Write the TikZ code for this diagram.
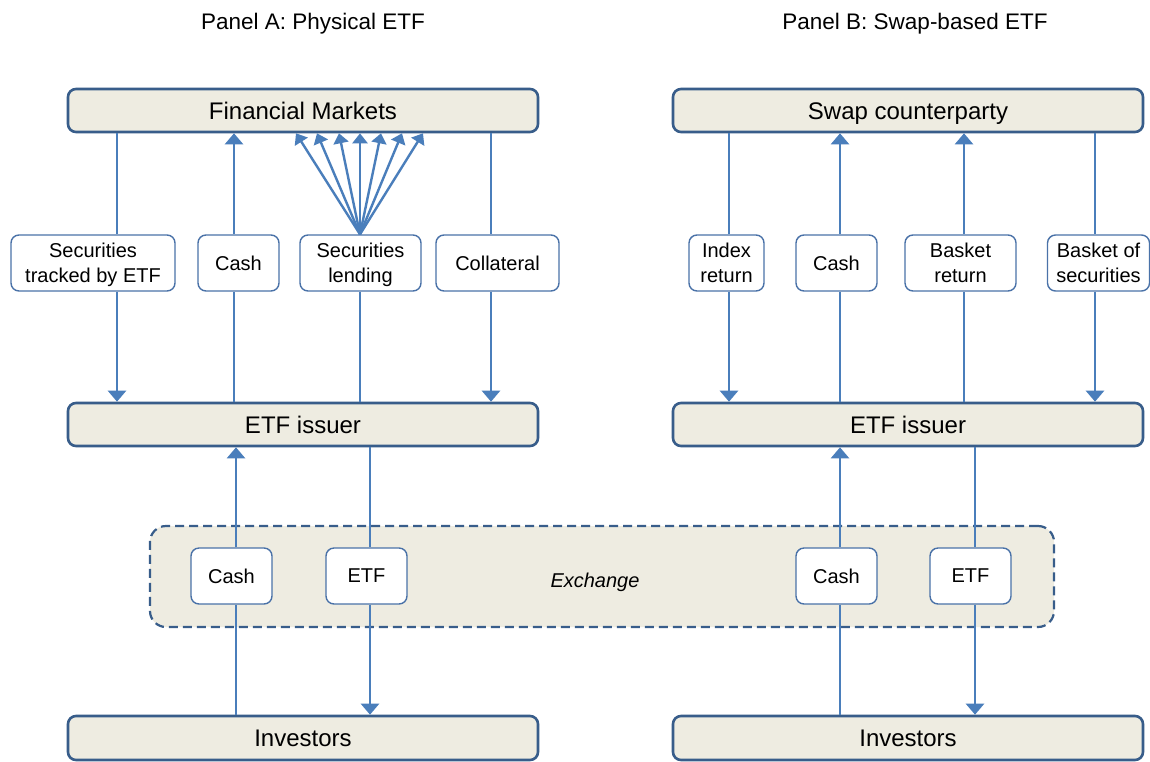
\documentclass[tikz,border=0pt]{standalone}
\usepackage{fontspec}
\setmainfont{Liberation Sans}
\usetikzlibrary{arrows.meta,calc}
\definecolor{boxfill}{HTML}{EEECE1}
\definecolor{boxline}{HTML}{385D8A}
\definecolor{arrowc}{HTML}{4A7EBB}
\definecolor{smallline}{HTML}{4A72A8}
\begin{document}
\begin{tikzpicture}[x=1pt,y=-1pt,
  bigbox/.style={draw=boxline, line width=2.6pt, fill=boxfill, rounded corners=8pt,
    minimum width=470pt, minimum height=43pt, inner sep=0pt,
    text height=17.5pt, text depth=0pt, font=\fontsize{24}{28}\selectfont},
  smallbox/.style={draw=smallline, line width=1.4pt, fill=white, rounded corners=8pt,
    minimum height=56pt, inner sep=0pt, align=center, text depth=0pt,
    font=\fontsize{20}{25}\selectfont},
  exbox/.style={draw=boxline, line width=2.2pt, dash pattern=on 9pt off 5pt,
    fill=boxfill, rounded corners=16pt, minimum width=904pt, minimum height=101pt, inner sep=0pt},
  titletext/.style={anchor=base, font=\fontsize{22.5}{27}\selectfont},
  flow/.style={draw=arrowc, line width=2.4pt},
  arr/.style={flow, -{Triangle[width=18pt,length=11pt]}},
  fanarr/.style={flow, -{Triangle[width=15pt,length=10pt]}}]
\useasboundingbox (0,0) rectangle (1150,761);
\fill[white] (0,0) rectangle (1150,761);

% titles
\node[titletext] (ta) at (313,29) {Panel A: Physical ETF};
\node[titletext] (tb) at (915,29) {Panel B: Swap-based ETF};

% exchange
\node[exbox] (ex) at (602,576.5) {};
\node[anchor=base, font=\itshape\fontsize{20}{24}\selectfont] (exl) at (595,587) {Exchange};

% big boxes
\node[bigbox] (FM) at (303,110.5) {Financial Markets};
\node[bigbox] (SC) at (908,110.5) {Swap counterparty};
\node[bigbox] (EA) at (303,424.5) {ETF issuer};
\node[bigbox] (EB) at (908,424.5) {ETF issuer};
\node[bigbox, minimum height=44pt] (IA) at (303,738) {Investors};
\node[bigbox, minimum height=44pt] (IB) at (908,738) {Investors};

% panel A small boxes
\node[smallbox, minimum width=164pt] (s1) at (93,263) {Securities\\tracked by ETF};
\node[smallbox, minimum width=81pt] (s2) at (238.5,263) {Cash};
\node[smallbox, minimum width=121pt] (s3) at (360.5,263) {Securities\\lending};
\node[smallbox, minimum width=123pt] (s4) at (497.5,263) {Collateral};

% panel B small boxes
\node[smallbox, minimum width=75pt] (b1) at (726.5,263) {Index\\return};
\node[smallbox, minimum width=81pt] (b2) at (836.5,263) {Cash};
\node[smallbox, minimum width=111pt] (b3) at (960.5,263) {Basket\\return};
\node[smallbox, minimum width=102pt] (b4) at (1098.5,263) {Basket of\\securities};

% exchange small boxes
\node[smallbox, minimum width=81pt] (c1) at (231.5,576) {Cash};
\node[smallbox, minimum width=81pt] (c2) at (366.5,576) {ETF};
\node[smallbox, minimum width=81pt] (c3) at (836.5,576) {Cash};
\node[smallbox, minimum width=81pt] (c4) at (970.5,576) {ETF};

% x positions of connectors
\coordinate (xa1) at (117,0);
\coordinate (xa2) at (234,0);
\coordinate (xa3) at (360,0);
\coordinate (xa4) at (491,0);
\coordinate (xb1) at (729,0);
\coordinate (xb2) at (840,0);
\coordinate (xb3) at (964,0);
\coordinate (xb4) at (1095,0);
\coordinate (xc1) at (236,0);
\coordinate (xc2) at (370,0);
\coordinate (xc3) at (840,0);
\coordinate (xc4) at (975,0);

% panel A top connectors
\draw[flow] (xa1 |- FM.south) -- (xa1 |- s1.north);
\draw[arr]  (xa1 |- s1.south) -- (xa1 |- EA.north);
\draw[arr]  (xa2 |- s2.north) -- (xa2 |- FM.south);
\draw[flow] (xa2 |- EA.north) -- (xa2 |- s2.south);
\draw[flow] (xa3 |- s3.south) -- (xa3 |- EA.north);
\foreach \x [count=\i] in {296,317,339,360,381,402,423}{
  \coordinate (f\i) at (\x,0);
  \draw[fanarr] (xa3 |- s3.north) -- (f\i |- FM.south);
}
\draw[flow] (xa4 |- FM.south) -- (xa4 |- s4.north);
\draw[arr]  (xa4 |- s4.south) -- (xa4 |- EA.north);

% panel B top connectors
\draw[flow] (xb1 |- SC.south) -- (xb1 |- b1.north);
\draw[arr]  (xb1 |- b1.south) -- (xb1 |- EB.north);
\draw[arr]  (xb2 |- b2.north) -- (xb2 |- SC.south);
\draw[flow] (xb2 |- EB.north) -- (xb2 |- b2.south);
\draw[arr]  (xb3 |- b3.north) -- (xb3 |- SC.south);
\draw[flow] (xb3 |- EB.north) -- (xb3 |- b3.south);
\draw[flow] (xb4 |- SC.south) -- (xb4 |- b4.north);
\draw[arr]  (xb4 |- b4.south) -- (xb4 |- EB.north);

% bottom connectors
\draw[arr]  (xc1 |- c1.north) -- (xc1 |- EA.south);
\draw[flow] (xc1 |- IA.north) -- (xc1 |- c1.south);
\draw[flow] (xc2 |- EA.south) -- (xc2 |- c2.north);
\draw[arr]  (xc2 |- c2.south) -- (xc2 |- IA.north);
\draw[arr]  (xc3 |- c3.north) -- (xc3 |- EB.south);
\draw[flow] (xc3 |- IB.north) -- (xc3 |- c3.south);
\draw[flow] (xc4 |- EB.south) -- (xc4 |- c4.north);
\draw[arr]  (xc4 |- c4.south) -- (xc4 |- IB.north);
\end{tikzpicture}
\end{document}
